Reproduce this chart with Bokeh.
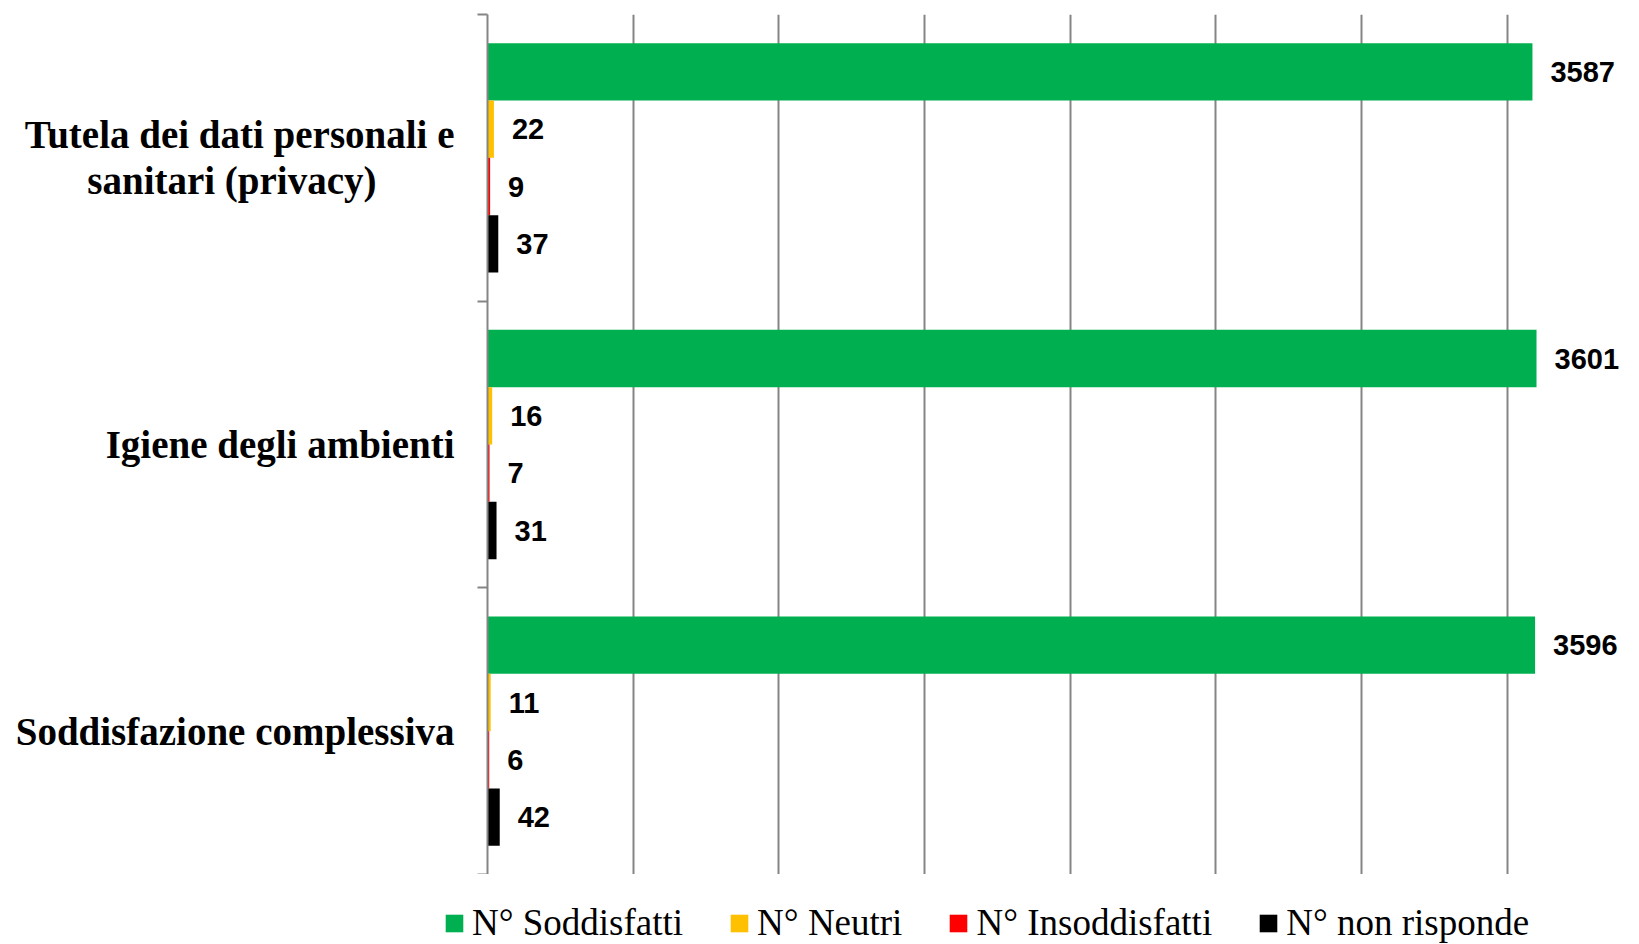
from bokeh.plotting import figure
from bokeh.layouts import column, row
from bokeh.models import ColumnDataSource, FixedTicker, Legend, LegendItem, Range1d
from bokeh.core.properties import value
from bokeh.embed import file_html
from bokeh.resources import INLINE

# ---- data (bottom to top) ----
categories = ["Soddisfazione complessiva", "Igiene degli ambienti",
              "Tutela dei dati personali e\nsanitari (privacy)" + "\u00a0" * 8]
series_names = ["N° Soddisfatti", "N° Neutri", "N° Insoddisfatti", "N° non risponde"]
soddisfatti = [3596, 3601, 3587]
neutri = [11, 16, 22]
insoddisfatti = [6, 7, 9]
non_risponde = [42, 31, 37]
colors = ["#00B050", "#FFC000", "#FF0000", "#000000"]
x_ticks = [500, 1000, 1500, 2000, 2500, 3000, 3500]

series = [soddisfatti, neutri, insoddisfatti, non_risponde]
offsets = [0.3, 0.1, -0.1, -0.3]

p = figure(width=1631, height=874, output_backend="svg", toolbar_location=None,
           x_range=Range1d(0, 3927), y_range=Range1d(0, 3),
           min_border_left=487, min_border_right=0, min_border_top=14,
           min_border_bottom=0)
p.outline_line_color = None
p.background_fill_color = "white"

# gridlines
p.xaxis.visible = False
p.xgrid.ticker = FixedTicker(ticks=x_ticks)
p.xgrid.grid_line_color = "#858585"
p.xgrid.grid_line_width = 2
p.ygrid.grid_line_color = None

# y axis: labels at band centres, tick marks at band boundaries
yax = p.yaxis[0]
yax.ticker = FixedTicker(ticks=[0.5, 1.5, 2.5], minor_ticks=[0, 1, 2, 3])
yax.major_label_overrides = {0.5: categories[0], 1.5: categories[1], 2.5: categories[2]}
yax.major_tick_out = 0
yax.major_tick_in = 0
yax.minor_tick_out = 10
yax.minor_tick_in = 0
yax.minor_tick_line_color = "#858585"
yax.minor_tick_line_width = 2
yax.axis_line_color = "#858585"
yax.axis_line_width = 2
yax.major_label_standoff = 23
yax.major_label_text_font = "Liberation Serif"
yax.major_label_text_font_style = "bold"
yax.major_label_text_font_size = "39px"
yax.major_label_text_color = "black"
yax.major_label_text_line_height = 1.07

for name, vals, col, off in zip(series_names, series, colors, offsets):
    ys = [i + 0.5 + off for i in range(len(vals))]
    src = ColumnDataSource(dict(y=ys, right=vals, lab=[str(v) for v in vals]))
    p.hbar(y="y", left=0, right="right", height=0.2, source=src,
           fill_color=col, line_color=None)
    p.text(x="right", y="y", text="lab", source=src, x_offset=18,
           text_baseline="middle", text_align="left",
           text_font=value("Liberation Sans"), text_font_style="bold",
           text_font_size="29px", text_color="black")

# ---- legend strip ----
lf = figure(width=1631, height=70, output_backend="svg", toolbar_location=None,
            x_range=Range1d(0, 1), y_range=Range1d(0, 1),
            x_axis_type=None, y_axis_type=None,
            min_border_left=0, min_border_right=0, min_border_top=0,
            min_border_bottom=0)
lf.outline_line_color = None
lf.background_fill_color = "white"
lf.border_fill_color = "white"
legend_items = []
for name, col in zip(series_names, colors):
    # legend-only renderer with zero size, outside the visible range
    r = lf.hbar(y=[5], left=[0], right=[0], height=0, fill_color=col, line_color=None)
    legend_items.append(LegendItem(label=name, renderers=[r]))

legend = Legend(items=legend_items, orientation="horizontal",
                location=(443, 0), padding=0, margin=0, spacing=45,
                glyph_width=22, glyph_height=22, label_standoff=7,
                label_text_font="Liberation Serif", label_text_font_size="37px",
                label_text_color="black", border_line_color=None,
                background_fill_alpha=0)
lf.add_layout(legend, "center")

layout = column(p, row(lf, spacing=0), spacing=0)
open("out.html", "w").write(file_html(layout, INLINE))
